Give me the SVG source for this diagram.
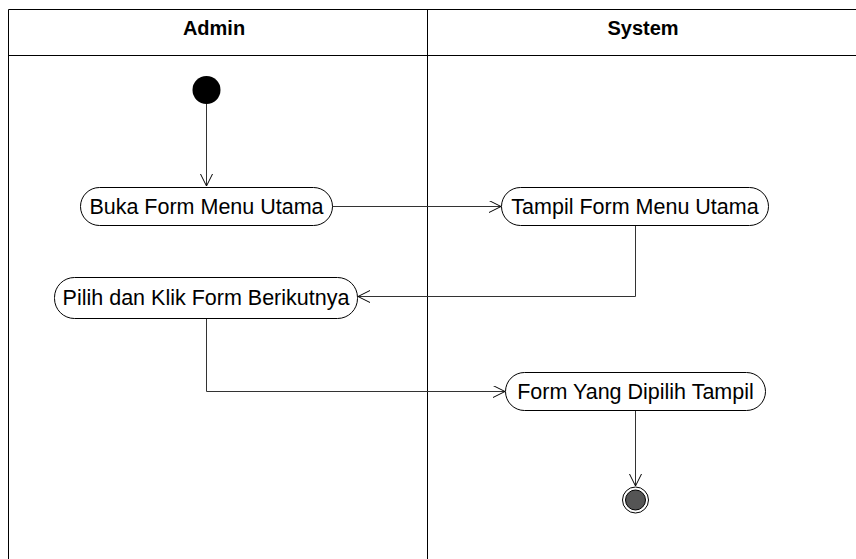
<svg xmlns="http://www.w3.org/2000/svg" width="856" height="559" viewBox="0 0 856 559">
<style>
.lane{fill:none;stroke:#000;stroke-width:1}
.hdr{font-family:"Liberation Sans",Arial,sans-serif;font-size:20px;font-weight:bold;text-anchor:middle;fill:#000}
.act rect{fill:#fff;stroke:#000;stroke-width:1}
.act text{font-family:"Liberation Sans",Arial,sans-serif;font-size:21.5px;text-anchor:middle;fill:#000}
.conn{fill:none;stroke:#333;stroke-width:1}
</style>
<defs>
<marker id="open" markerWidth="14" markerHeight="14" refX="12" refY="6" orient="auto" markerUnits="userSpaceOnUse">
<path d="M0,0 L12,6 L0,12" fill="none" stroke="#000" stroke-width="1"/>
</marker>
</defs>
<rect width="856" height="559" fill="#fff"/>
<g id="swimlanes">
<path class="lane" d="M8.5,559 V9.5 H856 M8.5,55.5 H856 M427.5,9.5 V559"/>
<text class="hdr" x="214" y="35">Admin</text>
<text class="hdr" x="643" y="35">System</text>
</g>
<g id="connectors">
<path class="conn" d="M206.5,104 V186" marker-end="url(#open)"/>
<path class="conn" d="M332,206.5 H501" marker-end="url(#open)"/>
<path class="conn" d="M635.5,225 V296.5 H358" marker-end="url(#open)"/>
<path class="conn" d="M206.5,318 V391.5 H505" marker-end="url(#open)"/>
<path class="conn" d="M635.5,410 V486" marker-end="url(#open)"/>
</g>
<g id="start"><circle cx="206.5" cy="90" r="14" fill="#000"/></g>
<g id="a1" class="act"><rect x="80.5" y="187.5" width="252" height="38" rx="19"/><text x="206.5" y="214">Buka Form Menu Utama</text></g>
<g id="a2" class="act"><rect x="501.5" y="187.5" width="267" height="38" rx="19"/><text x="635" y="214">Tampil Form Menu Utama</text></g>
<g id="a3" class="act"><rect x="54.5" y="277.5" width="303" height="41" rx="20"/><text x="206" y="305">Pilih dan Klik Form Berikutnya</text></g>
<g id="a4" class="act"><rect x="505.5" y="372.5" width="260" height="38" rx="19"/><text x="635.5" y="399">Form Yang Dipilih Tampil</text></g>
<g id="end"><circle cx="635.5" cy="500" r="13" fill="#fff" stroke="#000"/><circle cx="635.5" cy="500" r="10" fill="#555" stroke="#000"/></g>
</svg>
